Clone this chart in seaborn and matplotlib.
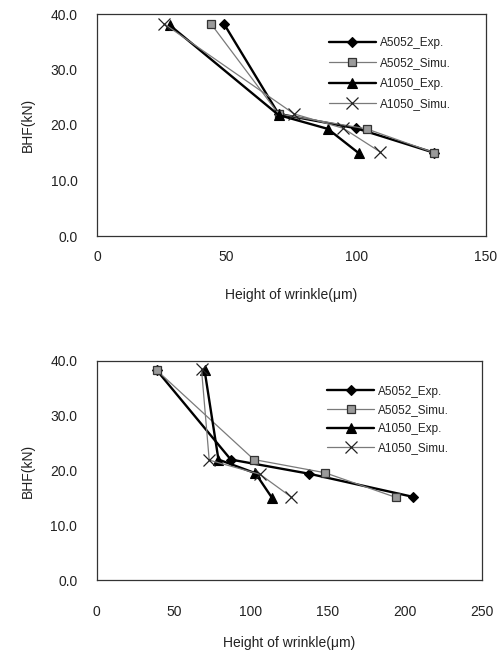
import matplotlib
matplotlib.use("Agg")
import matplotlib.pyplot as plt
import seaborn as sns
import pandas as pd

sns.set_theme(style="white")
plt.rcParams['font.family'] = ['Liberation Sans', 'DejaVu Sans']

series_names = ["A5052_Exp.", "A5052_Simu.", "A1050_Exp.", "A1050_Simu."]

# Top chart
top_a5052_exp_x = [49, 70, 100, 130]
top_a5052_exp_y = [38.2, 22.0, 19.4, 15.0]
top_a5052_sim_x = [44, 70, 104, 130]
top_a5052_sim_y = [38.2, 22.0, 19.3, 15.0]
top_a1050_exp_x = [28, 70, 89, 101]
top_a1050_exp_y = [38.0, 21.8, 19.3, 14.9]
top_a1050_sim_x = [26, 76, 95, 109]
top_a1050_sim_y = [38.2, 22.0, 19.4, 15.2]

# Bottom chart
bot_a5052_exp_x = [39, 87, 138, 205]
bot_a5052_exp_y = [38.3, 22.0, 19.4, 15.2]
bot_a5052_sim_x = [39, 102, 148, 194]
bot_a5052_sim_y = [38.3, 22.0, 19.6, 15.1]
bot_a1050_exp_x = [70, 79, 103, 114]
bot_a1050_exp_y = [38.3, 22.0, 19.5, 14.9]
bot_a1050_sim_x = [68, 73, 106, 126]
bot_a1050_sim_y = [38.5, 21.9, 19.3, 15.2]

y_ticks = [0, 10, 20, 30, 40]
y_ticklabels = ["0.0", "10.0", "20.0", "30.0", "40.0"]
top_x_ticks = [0, 50, 100, 150]
bot_x_ticks = [0, 50, 100, 150, 200, 250]
x_label = "Height of wrinkle(μm)"
y_label = "BHF(kN)"

styles = {
    "A5052_Exp.": dict(color="black", lw=1.7, marker="D", ms=5.5, mfc="black", mec="black", mew=0.8),
    "A5052_Simu.": dict(color="#7a7a7a", lw=0.9, marker="s", ms=6, mfc="#9a9a9a", mec="#333333", mew=0.9),
    "A1050_Exp.": dict(color="black", lw=1.7, marker="^", ms=6.5, mfc="black", mec="black", mew=0.8),
    "A1050_Simu.": dict(color="#7a7a7a", lw=0.9, marker="x", ms=8, mfc="none", mec="#222222", mew=0.9),
}

fig = plt.figure(figsize=(4.99, 6.5), dpi=100)
ax1 = fig.add_axes([97/499, 1-236/650, (486-97)/499, (236-14)/650])
ax2 = fig.add_axes([96.7/499, 1-580/650, (482-96.7)/499, (580-361)/650])

def draw(ax, data, xticks, xmax, leg_anchor, xpad, xlabelpad, lspacing):
    for name, (xs, ys) in zip(series_names, data):
        df = pd.DataFrame({"x": xs, "y": ys})
        st = styles[name]
        sns.lineplot(data=df, x="x", y="y", ax=ax, sort=False, estimator=None,
                     color=st["color"], linewidth=st["lw"], marker=st["marker"],
                     markersize=st["ms"], markerfacecolor=st["mfc"],
                     markeredgecolor=st["mec"], markeredgewidth=st["mew"],
                     label=name)
    ax.set_xlim(0, xmax)
    ax.set_ylim(0, 40)
    ax.set_xticks(xticks)
    ax.set_xticklabels([str(t) for t in xticks], fontsize=10, color="#222222")
    ax.set_yticks(y_ticks)
    ax.set_yticklabels(y_ticklabels, fontsize=10, color="#222222")
    ax.tick_params(axis="x", direction="in", length=3, width=0.8, pad=xpad, colors="#222222")
    ax.tick_params(axis="y", length=0, pad=14)
    ax.set_xlabel(x_label, fontsize=10, color="#222222", labelpad=xlabelpad)
    ax.set_ylabel(y_label, fontsize=10, color="#222222", labelpad=11)
    for sp in ax.spines.values():
        sp.set_visible(True)
        sp.set_color("#333333")
        sp.set_linewidth(0.9)
    ax.grid(False)
    leg = ax.legend(loc="upper left", bbox_to_anchor=leg_anchor, frameon=False,
                    fontsize=8.5, handlelength=4.0, handletextpad=0.35,
                    labelspacing=lspacing, borderpad=0, borderaxespad=0)
    for t in leg.get_texts():
        t.set_color("#222222")

draw(ax1, [(top_a5052_exp_x, top_a5052_exp_y), (top_a5052_sim_x, top_a5052_sim_y),
           (top_a1050_exp_x, top_a1050_exp_y), (top_a1050_sim_x, top_a1050_sim_y)],
     top_x_ticks, 150, (0.596, 0.895), 10, 17, 0.70)
draw(ax2, [(bot_a5052_exp_x, bot_a5052_exp_y), (bot_a5052_sim_x, bot_a5052_sim_y),
           (bot_a1050_exp_x, bot_a1050_exp_y), (bot_a1050_sim_x, bot_a1050_sim_y)],
     bot_x_ticks, 250, (0.598, 0.888), 18, 12, 0.58)

fig.savefig("out.png", dpi=100)
